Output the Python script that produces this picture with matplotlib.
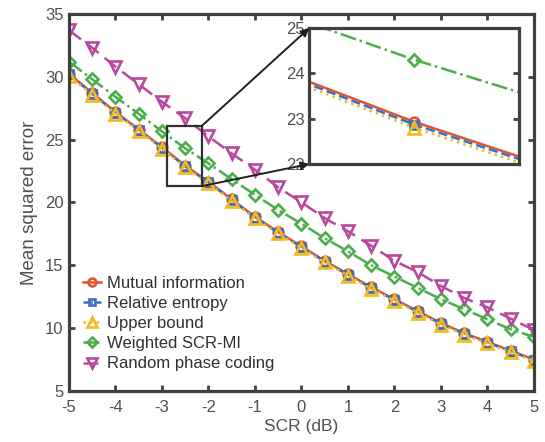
import matplotlib
matplotlib.use("Agg")
import matplotlib.pyplot as plt
from matplotlib.patches import Rectangle, ConnectionPatch

# SCR values (dB)
scr = [-5, -4.5, -4, -3.5, -3, -2.5, -2, -1.5, -1, -0.5, 0,
       0.5, 1, 1.5, 2, 2.5, 3, 3.5, 4, 4.5, 5]

# mean squared error for each method
mutual_info = [30.25, 28.7, 27.2, 25.8, 24.4, 22.93, 21.65, 20.25, 18.85, 17.65, 16.5,
               15.35, 14.3, 13.25, 12.3, 11.35, 10.4, 9.6, 8.9, 8.2, 7.5]
rel_entropy = [30.2, 28.65, 27.15, 25.75, 24.35, 22.87, 21.6, 20.2, 18.8, 17.6, 16.45,
               15.3, 14.25, 13.2, 12.25, 11.3, 10.35, 9.55, 8.85, 8.15, 7.45]
upper_bound = [30.1, 28.55, 27.05, 25.7, 24.28, 22.8, 21.52, 20.12, 18.73, 17.53, 16.38,
               15.23, 14.18, 13.13, 12.18, 11.23, 10.28, 9.48, 8.78, 8.08, 7.38]
weighted_mi = [31.2, 29.8, 28.4, 27.05, 25.65, 24.3, 23.1, 21.85, 20.6, 19.4, 18.3,
               17.15, 16.1, 15.0, 14.1, 13.2, 12.3, 11.5, 10.7, 9.9, 9.3]
random_phase = [33.7, 32.3, 30.8, 29.4, 28.0, 26.7, 25.25, 23.9, 22.6, 21.2, 20.0,
                18.75, 17.7, 16.55, 15.35, 14.45, 13.35, 12.4, 11.65, 10.75, 9.85]

labels = ["Mutual information", "Relative entropy", "Upper bound",
          "Weighted SCR-MI", "Random phase coding"]

# zoom window drawn on the main plot and the inset limits
zoom_rect = (-2.9, 21.3, 0.76, 4.8)
inset_xlim = (-2.8, -2.2)
inset_ylim = (22, 25)

plt.rcParams['font.family'] = ['Liberation Sans', 'DejaVu Sans']
plt.rcParams['axes.unicode_minus'] = False

spine_c = '#404040'
text_c = '#505050'

styles = [
    dict(color='#E4532F', ls='-', marker='o', ms=7),
    dict(color='#3C6FC0', ls='--', marker='s', ms=6),
    dict(color='#F2BA1E', ls=':', marker='^', ms=9),
    dict(color='#4AAE4A', ls='-.', marker='D', ms=6.5),
    dict(color='#B9479F', ls=(0, (6, 3)), marker='v', ms=9),
]
series = [mutual_info, rel_entropy, upper_bound, weighted_mi, random_phase]


def draw(ax):
    for y, st, lab in zip(series, styles, labels):
        ax.plot(scr, y, color=st['color'], ls=st['ls'], lw=1.8,
                marker=st['marker'], ms=st['ms'], mfc='none', mew=1.9,
                label=lab)


def style_axes(ax, lw=2.3):
    for sp in ax.spines.values():
        sp.set_linewidth(lw)
        sp.set_color(spine_c)
    ax.tick_params(direction='in', length=4, width=2, color=spine_c,
                   labelcolor=text_c, labelsize=12, top=True, right=True)


fig = plt.figure(figsize=(5.45, 4.42), dpi=100)
ax = fig.add_axes([0.1266, 0.1155, 0.8532, 0.853])
draw(ax)
ax.set_xlim(-5, 5)
ax.set_ylim(5, 35)
ax.set_xticks(range(-5, 6))
ax.set_yticks(range(5, 36, 5))
style_axes(ax)
ax.tick_params(axis='x', pad=6.5)
ax.tick_params(axis='y', pad=4)
ax.set_xlabel("SCR (dB)", fontsize=12.5, color=text_c, labelpad=3)
ax.set_ylabel("Mean squared error", fontsize=13.5, color=text_c, labelpad=5)

leg = ax.legend(loc='lower left', frameon=False, fontsize=12,
                handlelength=1.1, handletextpad=0.35, labelspacing=0.31,
                borderaxespad=0.0, bbox_to_anchor=(0.015, 0.034),
                markerscale=0.8)
for t in leg.get_texts():
    t.set_color('#303030')

rect = Rectangle(zoom_rect[:2], zoom_rect[2], zoom_rect[3], fill=False,
                 ec='#303030', lw=1.6, zorder=5)
ax.add_patch(rect)

axin = fig.add_axes([0.5675, 0.629, 0.3853, 0.3077])
axin.set_zorder(10)
axin.set_facecolor('white')
draw(axin)
axin.set_xlim(*inset_xlim)
axin.set_ylim(*inset_ylim)
axin.set_xticks([])
axin.set_yticks([22, 23, 24, 25])
style_axes(axin)
axin.tick_params(top=False, bottom=False)

# connecting arrows from zoom box to inset
x0, y0, w, h = zoom_rect
for ya, yb in [(y0 + h, 1), (y0, 0)]:
    con = ConnectionPatch(xyA=(x0 + w, ya), coordsA=ax.transData,
                          xyB=(0, yb), coordsB=axin.transAxes,
                          arrowstyle='-|>', mutation_scale=12, color='#202020',
                          lw=1.4, zorder=20)
    fig.add_artist(con)

fig.savefig('out.png', dpi=100)
